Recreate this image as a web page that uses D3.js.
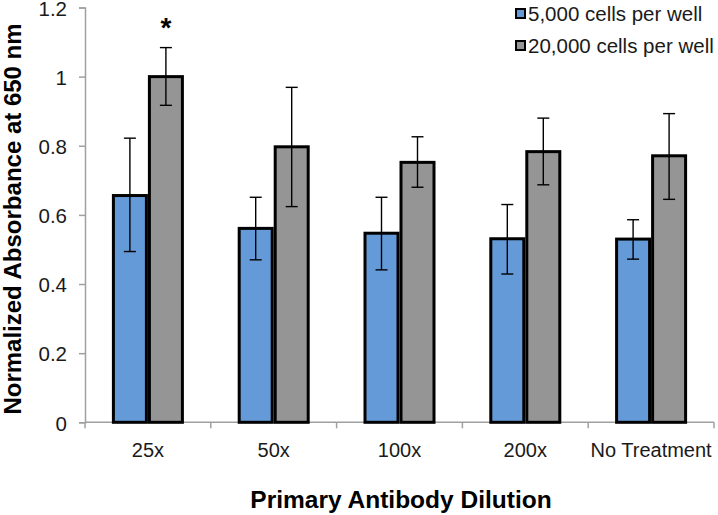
<!DOCTYPE html>
<html><head><meta charset="utf-8">
<script src="https://cdn.jsdelivr.net/npm/d3@7"></script>
<style>body{margin:0;background:#fff;}svg{display:block;font-family:"Liberation Sans",Arial,sans-serif;}</style>
</head><body>
<svg id="chart" width="718" height="515"></svg>
<script>
const categories = ["25x", "50x", "100x", "200x", "No Treatment"];
const seriesNames = ["5,000 cells per well", "20,000 cells per well"];
const values5k = [0.656, 0.561, 0.547, 0.531, 0.530];
const err5kUpper = [0.822, 0.651, 0.651, 0.630, 0.586];
const err5kLower = [0.494, 0.470, 0.441, 0.429, 0.472];
const values20k = [1.000, 0.797, 0.752, 0.783, 0.771];
const err20kUpper = [1.084, 0.969, 0.826, 0.880, 0.893];
const err20kLower = [0.917, 0.624, 0.680, 0.687, 0.645];
const yTicks = [0, 0.2, 0.4, 0.6, 0.8, 1, 1.2];
const colors = ["#659ad9", "#959595"];

const svg = d3.select("#chart");
const x0 = 85, x1 = 714, yTop = 7.5, yBot = 422.3;
const x = d3.scaleBand().domain(categories).range([x0, x1]).paddingInner(0).paddingOuter(0);
const y = d3.scaleLinear().domain([0, 1.2]).range([yBot, yTop]);
const barW = 36;

const series = [
  {vals: values5k, up: err5kUpper, lo: err5kLower, color: colors[0], off: -barW},
  {vals: values20k, up: err20kUpper, lo: err20kLower, color: colors[1], off: 0}
];

// axes
const yAxis = d3.axisLeft(y).tickValues(yTicks).tickSize(6).tickPadding(12).tickFormat(d => d3.format("")(d));
const gy = svg.append("g").attr("transform", `translate(${x0},0)`).call(yAxis);
gy.select(".domain").attr("stroke", "#a0a0a0").attr("stroke-width", 1.5);
gy.selectAll(".tick line").attr("stroke", "#a0a0a0").attr("stroke-width", 1.5);
gy.selectAll(".tick text").attr("font-size", 20.5).attr("fill", "#1a1a1a").attr("font-family", "Liberation Sans, Arial, sans-serif").attr("dy", "0.38em");

// x axis baseline and ticks at boundaries
svg.append("line").attr("x1", x0).attr("x2", x1).attr("y1", yBot).attr("y2", yBot).attr("stroke", "#a0a0a0").attr("stroke-width", 1.5);
const bounds = categories.map(c => x(c)).concat([x1]);
svg.selectAll(".xt").data(bounds).join("line").attr("x1", d => d).attr("x2", d => d)
  .attr("y1", yBot).attr("y2", yBot + 6).attr("stroke", "#a0a0a0").attr("stroke-width", 1.5);
svg.selectAll(".xl").data(categories).join("text")
  .attr("x", d => x(d) + x.bandwidth() / 2).attr("y", 457).attr("text-anchor", "middle")
  .attr("font-size", 20).attr("fill", "#1a1a1a").text(d => d);

// bars
series.forEach(s => {
  svg.append("g").selectAll("rect").data(categories).join("rect")
    .attr("x", (d) => x(d) + x.bandwidth() / 2 + s.off + 1.5)
    .attr("y", (d, i) => y(s.vals[i]))
    .attr("width", barW - 3)
    .attr("height", (d, i) => yBot - y(s.vals[i]))
    .attr("fill", s.color).attr("stroke", "#000").attr("stroke-width", 3);
});
// error bars
series.forEach(s => {
  const g = svg.append("g").attr("stroke", "#000").attr("stroke-width", 1.4);
  categories.forEach((c, i) => {
    const cx = x(c) + x.bandwidth() / 2 + s.off + barW / 2;
    g.append("line").attr("x1", cx).attr("x2", cx).attr("y1", y(s.up[i])).attr("y2", y(s.lo[i]));
    g.append("line").attr("x1", cx - 6).attr("x2", cx + 6).attr("y1", y(s.up[i])).attr("y2", y(s.up[i]));
    g.append("line").attr("x1", cx - 6).attr("x2", cx + 6).attr("y1", y(s.lo[i])).attr("y2", y(s.lo[i]));
  });
});

// asterisk
svg.append("text").attr("x", x(categories[0]) + x.bandwidth() / 2 + barW / 2).attr("y", 37)
  .attr("text-anchor", "middle").attr("font-size", 28).attr("font-weight", "bold").attr("fill", "#000").text("*");

// legend
seriesNames.forEach((n, i) => {
  const ly = 14 + i * 32;
  svg.append("rect").attr("x", 516).attr("y", ly - 5).attr("width", 9).attr("height", 9)
    .attr("fill", colors[i]).attr("stroke", "#000").attr("stroke-width", 2);
  svg.append("text").attr("x", 528).attr("y", ly + 7).attr("font-size", 20.5).attr("fill", "#1a1a1a").text(n);
});

// axis titles
svg.append("text").attr("x", 401).attr("y", 508).attr("text-anchor", "middle")
  .attr("font-size", 24.5).attr("font-weight", "bold").attr("fill", "#000").text("Primary Antibody Dilution");
svg.append("text").attr("transform", "translate(21,219) rotate(-90)").attr("text-anchor", "middle")
  .attr("font-size", 24).attr("font-weight", "bold").attr("fill", "#000").text("Normalized Absorbance at 650 nm");
</script>
</body></html>
